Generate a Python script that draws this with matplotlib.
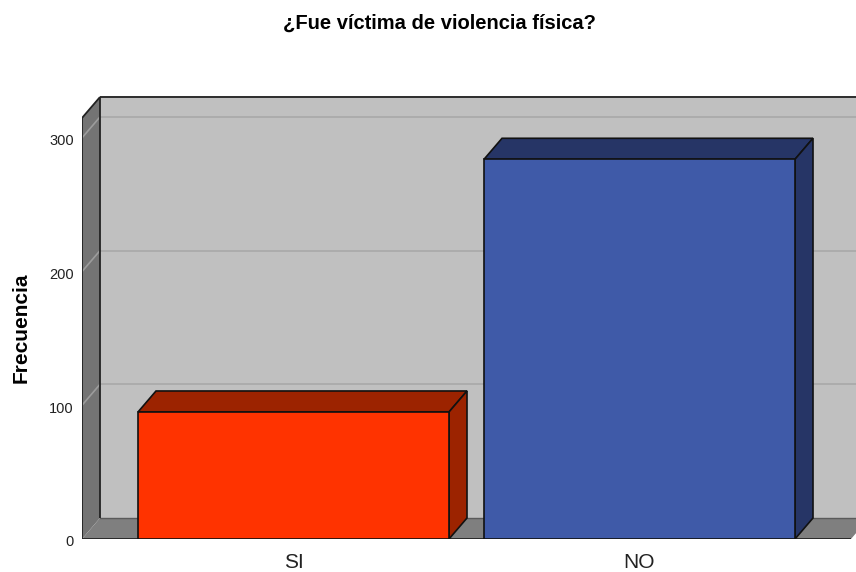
import matplotlib.pyplot as plt
import matplotlib.transforms as mtransforms
from matplotlib.patches import Polygon
import numpy as np

plt.rcParams['font.family'] = ['Liberation Sans', 'DejaVu Sans']

# datos
categorias = ["SI", "NO"]
frecuencias = [95, 284]
colores_frente = ["#ff3300", "#3f5aa8"]
colores_lado = ["#9c2300", "#263566"]
yticks = [0, 100, 200, 300]

W, H = 856, 572
fig = plt.figure(figsize=(W / 100, H / 100), dpi=100)

# axes in pixels: front left 82, bottom 539, top 96, right edge of image
left, bottom, top, right = 82, 539, 96, 856
ax = fig.add_axes([left / W, (H - bottom) / H, (right - left) / W, (bottom - top) / H])

px_y = 1.337          # pixels per unit of frequency
px_x = 346.0          # pixels per category
x0_px = 293.5         # pixel of first category
xmin = (left - x0_px) / px_x
xmax = (right - x0_px) / px_x
xfront = (851 - x0_px) / px_x
ymax = (bottom - top) / px_y
ax.set_xlim(xmin, xmax)
ax.set_ylim(0, ymax)

dx = 18 / px_x
dy = 21 / px_y
ytop = (bottom - 118) / px_y
ancho = 311 / px_x

def poly(pts, fc, ec="none", lw=0, z=1):
    ax.add_patch(Polygon(pts, closed=True, facecolor=fc, edgecolor=ec, linewidth=lw, zorder=z))

# back wall
poly([(xmin + dx, dy), (xmax + dx, dy), (xmax + dx, ymax + 5), (xmin + dx, ymax + 5)], "#c0c0c0", z=1)
# left wall
poly([(xmin, 0), (xmin + dx, dy), (xmin + dx, ytop + dy), (xmin, ytop)], "#747474", z=2)
# floor
poly([(xmin, 0), (xfront, 0), (xfront + dx, dy), (xmin + dx, dy)], "#7f7f7f", z=2)

# gridlines
for v in yticks[1:]:
    ax.plot([xmin + dx, xmax + dx], [v + dy, v + dy], color="#a9a9a9", lw=1.2, zorder=1.5)
    ax.plot([xmin, xmin + dx], [v, v + dy], color="#9c9c9c", lw=1.2, zorder=2.5)

# edges
k = dict(color="#222222", lw=1.3, zorder=3, solid_capstyle="butt")
ax.plot([xmin, xmin], [0, ytop], **k)
ax.plot([xmin, xmin + dx], [ytop, ytop + dy], **k)
ax.plot([xmin + dx, xmax + dx], [ytop + dy, ytop + dy], **k)
ax.plot([xmin + dx, xmin + dx], [dy, ytop + dy], **k)
ax.plot([xmin, xfront], [0, 0], **k)
ax.plot([xmin + dx, xmax + dx], [dy, dy], color="#5a5a5a", lw=1, zorder=2.6)

# bars
for i, v in enumerate(frecuencias):
    a, b = i - ancho / 2, i + ancho / 2
    poly([(a, v), (b, v), (b + dx, v + dy), (a + dx, v + dy)], colores_lado[i], "#111111", 1.2, 4)
    poly([(b, 0), (b + dx, dy), (b + dx, v + dy), (b, v)], colores_lado[i], "#111111", 1.2, 4)
    poly([(a, 0), (b, 0), (b, v), (a, v)], colores_frente[i], "#111111", 1.2, 5)

for s in ax.spines.values():
    s.set_visible(False)
ax.set_yticks(yticks)
ax.set_yticklabels([str(t) for t in yticks], fontsize=10.5, va="center_baseline", color="#222222")
ax.set_xticks(range(len(categorias)))
ax.set_xticklabels(categorias, fontsize=15, color="#222222")
ax.tick_params(axis="y", length=0, pad=6)
ax.tick_params(axis="x", length=0, pad=10)
baja = mtransforms.ScaledTranslation(0, -2 / 100, fig.dpi_scale_trans)
for t in ax.get_yticklabels():
    t.set_transform(t.get_transform() + baja)
fig.text(21 / W, 1 - 328 / H, "Frecuencia", rotation=90, ha="center", va="center",
         fontsize=15, fontweight="bold")
fig.text(439 / W, 1 - 23 / H, "¿Fue víctima de violencia física?", ha="center", va="center",
         fontsize=14.5, fontweight="bold")

fig.savefig("out.png", dpi=100)
